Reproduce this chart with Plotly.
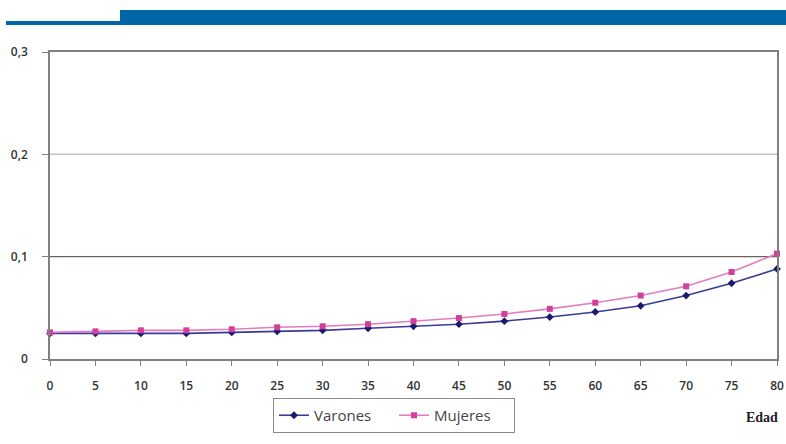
import plotly.graph_objects as go

edad = [0, 5, 10, 15, 20, 25, 30, 35, 40, 45, 50, 55, 60, 65, 70, 75, 80]
varones = [0.025, 0.025, 0.025, 0.025, 0.026, 0.027, 0.028, 0.030, 0.032, 0.034,
           0.037, 0.041, 0.046, 0.052, 0.062, 0.074, 0.088]
mujeres = [0.026, 0.027, 0.028, 0.028, 0.029, 0.031, 0.032, 0.034, 0.037, 0.040,
           0.044, 0.049, 0.055, 0.062, 0.071, 0.085, 0.103]
y_ticks = [0, 0.1, 0.2, 0.3]
y_tick_labels = ["0", "0,1", "0,2", "0,3"]

font_family = "Open Sans, Liberation Sans, sans-serif"

FW, FH = 786, 444
L, R, T, B = 50, 777, 52, 359
W, H = R - L, B - T


def px(x):
    return (x - L) / W


def py(y):
    return (B - y) / H


fig = go.Figure()
fig.add_trace(go.Scatter(
    x=edad, y=varones, name="Varones", mode="lines+markers",
    line=dict(color="#3a3a98", width=1.6),
    marker=dict(symbol="diamond", size=6, color="#1a1a6e"),
    cliponaxis=False,
))
fig.add_trace(go.Scatter(
    x=edad, y=mujeres, name="Mujeres", mode="lines+markers",
    line=dict(color="#e27cc0", width=1.6),
    marker=dict(symbol="square", size=6, color="#d0409a"),
    cliponaxis=False,
))

# gridlines (0.1 darker, 0.2 lighter)
fig.add_shape(type="line", xref="paper", yref="y", x0=0, x1=1, y0=y_ticks[1], y1=y_ticks[1],
              line=dict(color="#6a6060", width=1.2), layer="below")
fig.add_shape(type="line", xref="paper", yref="y", x0=0, x1=1, y0=y_ticks[2], y1=y_ticks[2],
              line=dict(color="#c4c4c4", width=1.5), layer="below")

# header bars
fig.add_shape(type="rect", xref="paper", yref="paper", x0=px(120), x1=px(790),
              y0=py(25), y1=py(10), line=dict(width=0), fillcolor="#0066a8")
fig.add_shape(type="rect", xref="paper", yref="paper", x0=px(6), x1=px(120),
              y0=py(25), y1=py(21), line=dict(width=0), fillcolor="#0066a8")

fig.add_annotation(text="<b>Edad</b>", xref="paper", yref="paper",
                   x=px(762), y=py(417), xanchor="center", yanchor="middle", showarrow=False,
                   font=dict(family="Liberation Serif, Times New Roman, serif", size=14, color="#222"))

fig.update_layout(
    width=FW, height=FH,
    margin=dict(l=L, r=FW - R, t=T, b=FH - B, autoexpand=False),
    paper_bgcolor="white", plot_bgcolor="white",
    font=dict(family=font_family, size=12, color="#333"),
    showlegend=True,
    legend=dict(orientation="h", x=px(273), y=py(398),
                xanchor="left", yanchor="top",
                bordercolor="#8a8a8a", borderwidth=1,
                font=dict(size=15, color="#444"),
                entrywidth=75, tracegroupgap=0),
    xaxis=dict(range=[0, 80], tickvals=edad, showgrid=False, zeroline=False,
               showline=True, linecolor="#808080", linewidth=1.5, mirror=True,
               ticks="outside", ticklen=5, tickcolor="#808080", automargin=False,
               ticklabelstandoff=10,
               tickfont=dict(size=12, color="#333", weight=600)),
    yaxis=dict(range=[0, 0.3], tickvals=y_ticks, ticktext=y_tick_labels,
               showgrid=False, zeroline=False,
               showline=True, linecolor="#808080", linewidth=1.5, mirror=True,
               ticks="outside", ticklen=6, tickcolor="#808080", automargin=False,
               ticklabelstandoff=12,
               tickfont=dict(size=12, color="#333", weight=600)),
)

fig.write_html(
    "out.html",
    config={"displayModeBar": False},
    post_script="document.body.style.margin='0';document.body.style.overflow='hidden';",
)
